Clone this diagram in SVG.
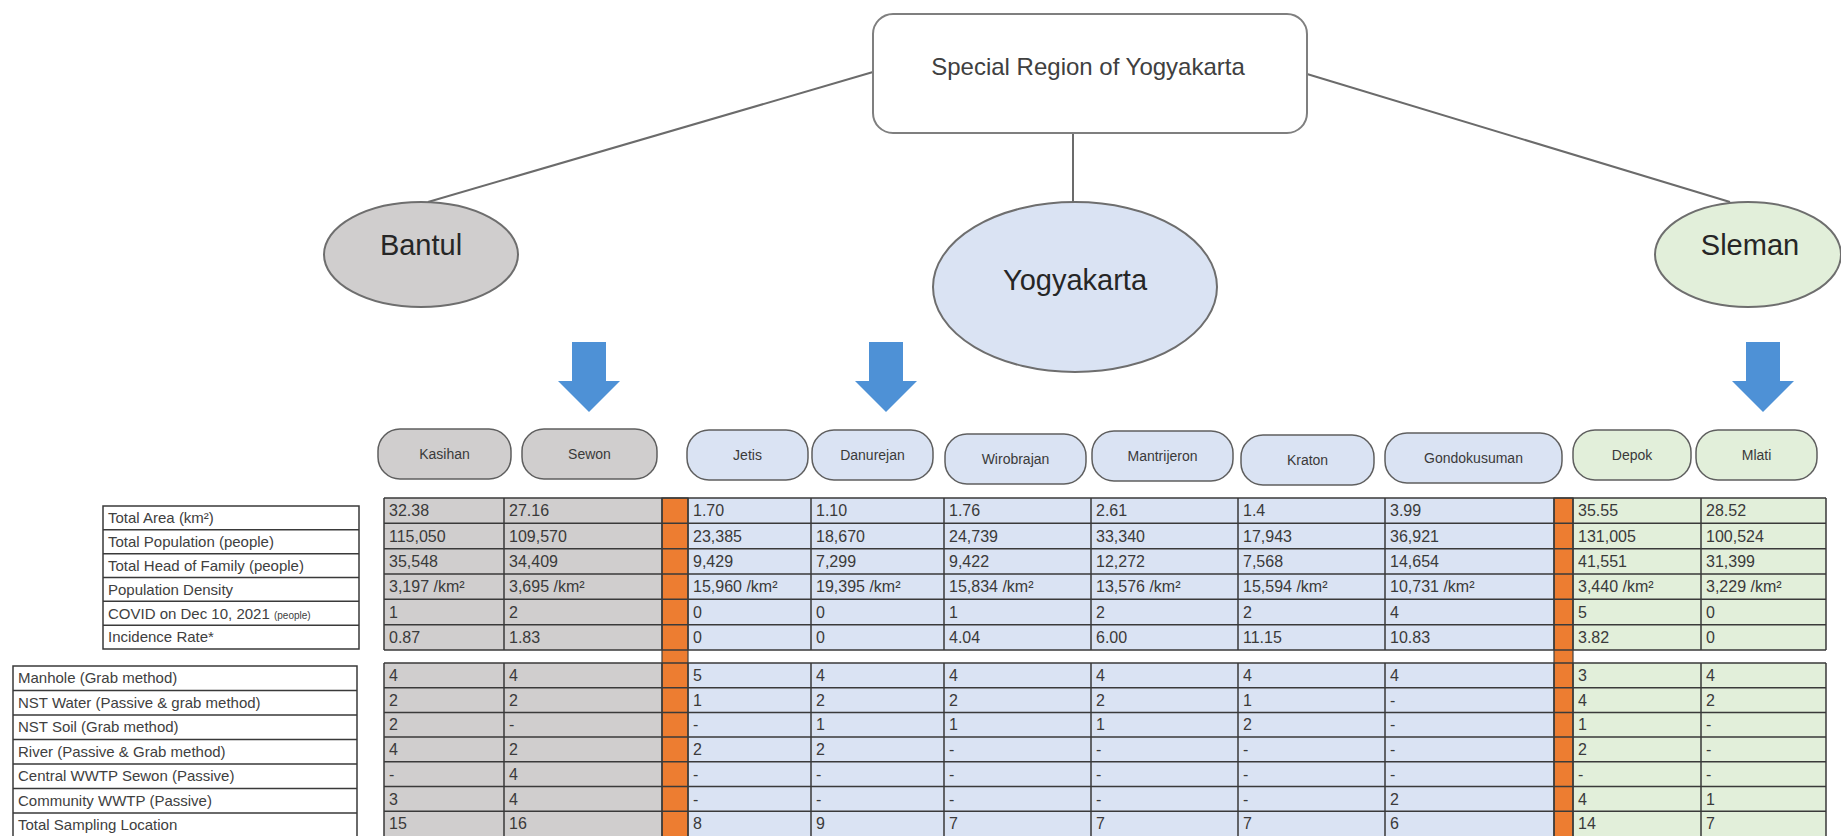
<svg xmlns="http://www.w3.org/2000/svg" width="1841" height="836" viewBox="0 0 1841 836">
<style>
text{font-family:"Liberation Sans",Arial,sans-serif}
.conn{stroke:#6b6b6b;stroke-width:2;fill:none}
.box{fill:#fff;stroke:#7f7f7f;stroke-width:2}
.ell{stroke:#6e6e6e;stroke-width:2}
.gray{fill:#d0cece}
.blue{fill:#dae3f3}
.green{fill:#e2efda}
.orange{fill:#ed7d31;stroke:#404040;stroke-width:1.2}
.big{font-size:29px;fill:#262626;text-anchor:middle}
.title{font-size:24px;fill:#404040;text-anchor:middle}
.pill{stroke:#5f5f5f;stroke-width:1.5}
.pt{font-size:14px;fill:#3a3a3a;text-anchor:middle}
.arrow{fill:#4e91d6}
.grid{stroke:#3a3a3a;stroke-width:1.5;fill:none}
.lbl{font-size:15px;fill:#404040}
.d{font-size:16px;fill:#3a3a3a}
</style>

<g id="connectors">
<line class="conn" x1="873" y1="72" x2="428" y2="202"/>
<line class="conn" x1="1073" y1="133" x2="1073" y2="202"/>
<line class="conn" x1="1307" y1="74" x2="1730" y2="202"/>
</g>

<g id="node-special-region">
<rect class="box" x="873" y="14" width="434" height="119" rx="20"/>
<text class="title" x="1088" y="75">Special Region of Yogyakarta</text>
</g>

<g id="node-bantul">
<ellipse class="ell gray" cx="421" cy="254.5" rx="97" ry="52.5"/>
<text class="big" x="421" y="255">Bantul</text>
</g>

<g id="node-yogyakarta">
<ellipse class="ell blue" cx="1075" cy="287" rx="142" ry="85"/>
<text class="big" x="1075" y="290">Yogyakarta</text>
</g>

<g id="node-sleman">
<ellipse class="ell green" cx="1748" cy="254.5" rx="93" ry="52.5"/>
<text class="big" x="1750" y="255">Sleman</text>
</g>

<g id="arrows">
<polygon class="arrow" points="572,342 606,342 606,381 620,381 589,412 558,381 572,381"/>
<polygon class="arrow" points="869,342 903,342 903,381 917,381 886,412 855,381 869,381"/>
<polygon class="arrow" points="1746,342 1780,342 1780,381 1794,381 1763,412 1732,381 1746,381"/>
</g>

<g id="node-kasihan"><rect class="pill gray" x="378" y="429" width="133" height="50" rx="22"/><text class="pt" x="444.5" y="459">Kasihan</text></g>
<g id="node-sewon"><rect class="pill gray" x="522" y="429" width="135" height="50" rx="22"/><text class="pt" x="589.5" y="459">Sewon</text></g>
<g id="node-jetis"><rect class="pill blue" x="687" y="430" width="121" height="50" rx="22"/><text class="pt" x="747.5" y="460">Jetis</text></g>
<g id="node-danurejan"><rect class="pill blue" x="812" y="430" width="121" height="50" rx="22"/><text class="pt" x="872.5" y="460">Danurejan</text></g>
<g id="node-wirobrajan"><rect class="pill blue" x="945" y="434" width="141" height="50" rx="22"/><text class="pt" x="1015.5" y="464">Wirobrajan</text></g>
<g id="node-mantrijeron"><rect class="pill blue" x="1092" y="431" width="141" height="50" rx="22"/><text class="pt" x="1162.5" y="461">Mantrijeron</text></g>
<g id="node-kraton"><rect class="pill blue" x="1241" y="435" width="133" height="50" rx="22"/><text class="pt" x="1307.5" y="465">Kraton</text></g>
<g id="node-gondokusuman"><rect class="pill blue" x="1385" y="433" width="177" height="50" rx="22"/><text class="pt" x="1473.5" y="463">Gondokusuman</text></g>
<g id="node-depok"><rect class="pill green" x="1573" y="430" width="118" height="50" rx="22"/><text class="pt" x="1632" y="460">Depok</text></g>
<g id="node-mlati"><rect class="pill green" x="1696" y="430" width="121" height="50" rx="22"/><text class="pt" x="1756.5" y="460">Mlati</text></g>

<g id="labels-demographics">
<rect x="103" y="506" width="256" height="143" fill="#fff"/>
<path class="grid" d="M103 506H359V649H103Z M103 529.8H359 M103 553.7H359 M103 577.5H359 M103 601.3H359 M103 625.2H359"/>
<text class="lbl" x="108" y="523">Total Area (km²)</text>
<text class="lbl" x="108" y="547">Total Population (people)</text>
<text class="lbl" x="108" y="571">Total Head of Family (people)</text>
<text class="lbl" x="108" y="594.5">Population Density</text>
<text class="lbl" x="108" y="618.5">COVID on Dec 10, 2021 <tspan font-size="10">(people)</tspan></text>
<text class="lbl" x="108" y="642">Incidence Rate*</text>
</g>

<g id="labels-sampling">
<rect x="13" y="666" width="344" height="172" fill="#fff"/>
<path class="grid" d="M13 838V666H357V838 M13 690.5H357 M13 715H357 M13 739.5H357 M13 764H357 M13 788.5H357 M13 813H357"/>
<text class="lbl" x="18" y="683">Manhole (Grab method)</text>
<text class="lbl" x="18" y="708">NST Water (Passive &amp; grab method)</text>
<text class="lbl" x="18" y="732">NST Soil (Grab method)</text>
<text class="lbl" x="18" y="757">River (Passive &amp; Grab method)</text>
<text class="lbl" x="18" y="781">Central WWTP Sewon (Passive)</text>
<text class="lbl" x="18" y="806">Community WWTP (Passive)</text>
<text class="lbl" x="18" y="830">Total Sampling Location</text>
</g>

<g id="data-backgrounds">
<rect class="gray" x="384" y="498" width="278" height="152"/>
<rect class="blue" x="688" y="498" width="866" height="152"/>
<rect class="green" x="1573" y="498" width="253" height="152"/>
<rect class="gray" x="384" y="663" width="278" height="175"/>
<rect class="blue" x="688" y="663" width="866" height="175"/>
<rect class="green" x="1573" y="663" width="253" height="175"/>
<rect class="orange" x="662" y="498" width="26" height="340"/>
<rect class="orange" x="1554" y="498" width="19" height="340"/>
</g>

<g id="data-grid">
<path class="grid" d="M384 498H1826 M384 523.3H1826 M384 548.7H1826 M384 574H1826 M384 599.3H1826 M384 624.7H1826 M384 650H1826"/>
<path class="grid" d="M384 663H1826 M384 687.7H1826 M384 712.4H1826 M384 737.1H1826 M384 761.8H1826 M384 786.5H1826 M384 811.2H1826"/>
<path class="grid" d="M384 498V650 M504 498V650 M662 498V650 M688 498V650 M811 498V650 M944 498V650 M1091 498V650 M1238 498V650 M1385 498V650 M1554 498V650 M1573 498V650 M1701 498V650 M1826 498V650"/>
<path class="grid" d="M384 663V838 M504 663V838 M662 663V838 M688 663V838 M811 663V838 M944 663V838 M1091 663V838 M1238 663V838 M1385 663V838 M1554 663V838 M1573 663V838 M1701 663V838 M1826 663V838"/>
</g>

<g id="data-text-demographics" class="d">
<text class="d" x="389" y="516">32.38</text><text class="d" x="389" y="541.5">115,050</text><text class="d" x="389" y="567">35,548</text><text class="d" x="389" y="592">3,197 /km²</text><text class="d" x="389" y="617.5">1</text><text class="d" x="389" y="643">0.87</text>
<text class="d" x="509" y="516">27.16</text><text class="d" x="509" y="541.5">109,570</text><text class="d" x="509" y="567">34,409</text><text class="d" x="509" y="592">3,695 /km²</text><text class="d" x="509" y="617.5">2</text><text class="d" x="509" y="643">1.83</text>
<text class="d" x="693" y="516">1.70</text><text class="d" x="693" y="541.5">23,385</text><text class="d" x="693" y="567">9,429</text><text class="d" x="693" y="592">15,960 /km²</text><text class="d" x="693" y="617.5">0</text><text class="d" x="693" y="643">0</text>
<text class="d" x="816" y="516">1.10</text><text class="d" x="816" y="541.5">18,670</text><text class="d" x="816" y="567">7,299</text><text class="d" x="816" y="592">19,395 /km²</text><text class="d" x="816" y="617.5">0</text><text class="d" x="816" y="643">0</text>
<text class="d" x="949" y="516">1.76</text><text class="d" x="949" y="541.5">24,739</text><text class="d" x="949" y="567">9,422</text><text class="d" x="949" y="592">15,834 /km²</text><text class="d" x="949" y="617.5">1</text><text class="d" x="949" y="643">4.04</text>
<text class="d" x="1096" y="516">2.61</text><text class="d" x="1096" y="541.5">33,340</text><text class="d" x="1096" y="567">12,272</text><text class="d" x="1096" y="592">13,576 /km²</text><text class="d" x="1096" y="617.5">2</text><text class="d" x="1096" y="643">6.00</text>
<text class="d" x="1243" y="516">1.4</text><text class="d" x="1243" y="541.5">17,943</text><text class="d" x="1243" y="567">7,568</text><text class="d" x="1243" y="592">15,594 /km²</text><text class="d" x="1243" y="617.5">2</text><text class="d" x="1243" y="643">11.15</text>
<text class="d" x="1390" y="516">3.99</text><text class="d" x="1390" y="541.5">36,921</text><text class="d" x="1390" y="567">14,654</text><text class="d" x="1390" y="592">10,731 /km²</text><text class="d" x="1390" y="617.5">4</text><text class="d" x="1390" y="643">10.83</text>
<text class="d" x="1578" y="516">35.55</text><text class="d" x="1578" y="541.5">131,005</text><text class="d" x="1578" y="567">41,551</text><text class="d" x="1578" y="592">3,440 /km²</text><text class="d" x="1578" y="617.5">5</text><text class="d" x="1578" y="643">3.82</text>
<text class="d" x="1706" y="516">28.52</text><text class="d" x="1706" y="541.5">100,524</text><text class="d" x="1706" y="567">31,399</text><text class="d" x="1706" y="592">3,229 /km²</text><text class="d" x="1706" y="617.5">0</text><text class="d" x="1706" y="643">0</text>
</g>

<g id="data-text-sampling">
<text class="d" x="389" y="681">4</text><text class="d" x="389" y="705.5">2</text><text class="d" x="389" y="730">2</text><text class="d" x="389" y="755">4</text><text class="d" x="389" y="779.5">-</text><text class="d" x="389" y="804.5">3</text><text class="d" x="389" y="829">15</text>
<text class="d" x="509" y="681">4</text><text class="d" x="509" y="705.5">2</text><text class="d" x="509" y="730">-</text><text class="d" x="509" y="755">2</text><text class="d" x="509" y="779.5">4</text><text class="d" x="509" y="804.5">4</text><text class="d" x="509" y="829">16</text>
<text class="d" x="693" y="681">5</text><text class="d" x="693" y="705.5">1</text><text class="d" x="693" y="730">-</text><text class="d" x="693" y="755">2</text><text class="d" x="693" y="779.5">-</text><text class="d" x="693" y="804.5">-</text><text class="d" x="693" y="829">8</text>
<text class="d" x="816" y="681">4</text><text class="d" x="816" y="705.5">2</text><text class="d" x="816" y="730">1</text><text class="d" x="816" y="755">2</text><text class="d" x="816" y="779.5">-</text><text class="d" x="816" y="804.5">-</text><text class="d" x="816" y="829">9</text>
<text class="d" x="949" y="681">4</text><text class="d" x="949" y="705.5">2</text><text class="d" x="949" y="730">1</text><text class="d" x="949" y="755">-</text><text class="d" x="949" y="779.5">-</text><text class="d" x="949" y="804.5">-</text><text class="d" x="949" y="829">7</text>
<text class="d" x="1096" y="681">4</text><text class="d" x="1096" y="705.5">2</text><text class="d" x="1096" y="730">1</text><text class="d" x="1096" y="755">-</text><text class="d" x="1096" y="779.5">-</text><text class="d" x="1096" y="804.5">-</text><text class="d" x="1096" y="829">7</text>
<text class="d" x="1243" y="681">4</text><text class="d" x="1243" y="705.5">1</text><text class="d" x="1243" y="730">2</text><text class="d" x="1243" y="755">-</text><text class="d" x="1243" y="779.5">-</text><text class="d" x="1243" y="804.5">-</text><text class="d" x="1243" y="829">7</text>
<text class="d" x="1390" y="681">4</text><text class="d" x="1390" y="705.5">-</text><text class="d" x="1390" y="730">-</text><text class="d" x="1390" y="755">-</text><text class="d" x="1390" y="779.5">-</text><text class="d" x="1390" y="804.5">2</text><text class="d" x="1390" y="829">6</text>
<text class="d" x="1578" y="681">3</text><text class="d" x="1578" y="705.5">4</text><text class="d" x="1578" y="730">1</text><text class="d" x="1578" y="755">2</text><text class="d" x="1578" y="779.5">-</text><text class="d" x="1578" y="804.5">4</text><text class="d" x="1578" y="829">14</text>
<text class="d" x="1706" y="681">4</text><text class="d" x="1706" y="705.5">2</text><text class="d" x="1706" y="730">-</text><text class="d" x="1706" y="755">-</text><text class="d" x="1706" y="779.5">-</text><text class="d" x="1706" y="804.5">1</text><text class="d" x="1706" y="829">7</text>
</g>
</svg>
